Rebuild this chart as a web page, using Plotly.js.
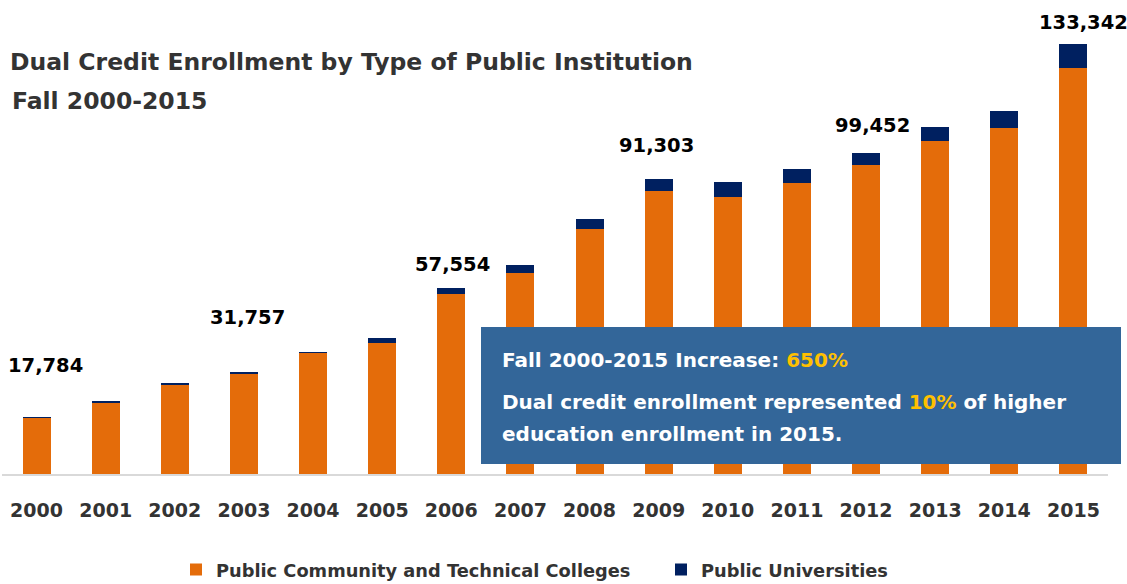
<!DOCTYPE html>
<html>
<head>
<meta charset="utf-8">
<script src="https://cdn.plot.ly/plotly-3.0.1.min.js"></script>
<style>html,body{margin:0;padding:0;background:#fff;}#chart{width:1127px;height:584px;}</style>
</head>
<body>
<div id="chart"></div>
<script>
const years = ['2000','2001','2002','2003','2004','2005','2006','2007','2008','2009','2010','2011','2012','2013','2014','2015'];
const communityColleges = [17300,22100,27600,31050,37500,40700,55900,62200,75850,87580,85970,90300,95730,103240,107360,125710];
const universities = [484,450,620,707,420,1370,1654,2590,3200,3723,4460,4350,3722,4430,5170,7632];
const labelYears = ['2000','2003','2006','2009','2012','2015'];
const labelTotals = [17784,31757,57554,91303,99452,133342];
const calloutLines = [
  'Fall 2000-2015 Increase: <span style="color:#FFC000">650%</span>',
  'Dual credit enrollment represented <span style="color:#FFC000">10%</span> of higher',
  'education enrollment in 2015.'
];

const FONT = 'DejaVu Sans, sans-serif';
const labelOffsets = {'2000':[9,51],'2003':[4,54],'2006':[1,24],'2009':[-2,34],'2012':[6,28],'2015':[10,21]};
const calloutY = [360, 402, 434];

const traces = [
  {type:'bar', name:'Public Community and Technical Colleges', x:years, y:communityColleges,
   marker:{color:'#E46C0A'}, hoverinfo:'x+y', legend:'legend'},
  {type:'bar', name:'Public Universities', x:years, y:universities,
   marker:{color:'#002060'}, hoverinfo:'x+y', legend:'legend2'}
];

const annotations = labelYears.map((yr,i)=>({
  x: years.indexOf(yr), y: labelTotals[i], xref:'x', yref:'y',
  text: labelTotals[i].toLocaleString('en-US'),
  showarrow:false, yanchor:'middle', xanchor:'center',
  xshift: labelOffsets[yr][0], yshift: labelOffsets[yr][1],
  font:{family:FONT, size:19.5, color:'#000', weight:'bold'}
}));

calloutLines.forEach((t,i)=>annotations.push({
  xref:'paper', yref:'paper', x:(500-2)/1106, y:(474-calloutY[i])/464, xanchor:'left', yanchor:'middle',
  showarrow:false, align:'left', text:t,
  font:{family:FONT, size:20, color:'#fff', weight:'bold'}
}));

annotations.push({
  xref:'paper', yref:'paper', x:(10-2)/1106, y:(474-101)/464, xanchor:'left', yanchor:'middle',
  showarrow:false, align:'left', text:'Fall 2000-2015',
  font:{family:FONT, size:23.5, color:'#333', weight:'bold'}
});

const legendFont = {family:FONT, size:17.8, color:'#333', weight:'bold'};
const layout = {
  width:1127, height:584,
  margin:{l:2, r:19, t:10, b:110, autoexpand:false},
  paper_bgcolor:'#fff', plot_bgcolor:'#fff',
  barmode:'stack', bargap:0.595,
  title:{text:'Dual Credit Enrollment by Type of Public Institution',
         xref:'container', yref:'container', x:10/1127, xanchor:'left', y:1-62/584, yanchor:'middle',
         font:{family:FONT, size:23.5, color:'#333', weight:'bold'}},
  xaxis:{type:'category', range:[-0.5,15.5], showline:true, linecolor:'#D9D9D9', linewidth:2, ticks:'',
         tickfont:{family:FONT, size:19, color:'#333', weight:'bold'}, ticklabelstandoff:18,
         showgrid:false, zeroline:false, fixedrange:true},
  yaxis:{range:[0,143840], visible:false, showgrid:false, zeroline:false, fixedrange:true},
  showlegend:true,
  legend:{orientation:'h', xref:'container', yref:'container', x:176/1127, xanchor:'left', y:1-570/584, yanchor:'middle',
          font:legendFont, itemwidth:30, bgcolor:'rgba(0,0,0,0)'},
  legend2:{orientation:'h', xref:'container', yref:'container', x:661/1127, xanchor:'left', y:1-570/584, yanchor:'middle',
          font:legendFont, itemwidth:30, bgcolor:'rgba(0,0,0,0)'},
  shapes:[{type:'rect', xref:'paper', yref:'paper', layer:'above',
           x0:(481-2)/1106, x1:(1121-2)/1106, y0:(474-464)/464, y1:(474-327)/464,
           fillcolor:'#336699', line:{width:0}}],
  annotations:annotations
};

Plotly.newPlot('chart', traces, layout, {displayModeBar:false, staticPlot:true});
</script>
</body>
</html>
